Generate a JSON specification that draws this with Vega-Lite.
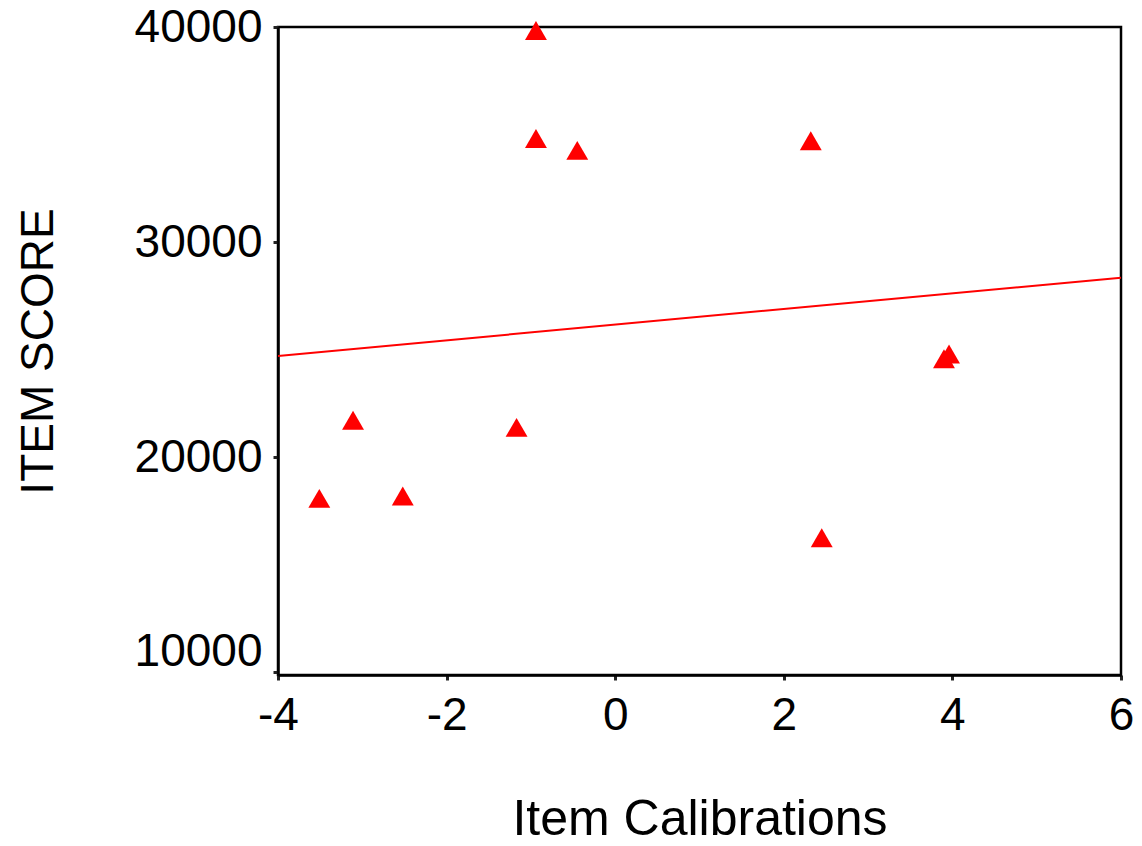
{
  "$schema": "https://vega.github.io/schema/vega-lite/v6.json",
  "autosize": "none",
  "width": 843,
  "height": 648,
  "padding": {"left": 278, "top": 27, "right": 21, "bottom": 171},
  "background": "white",
  "config": {
    "view": {"stroke": "black", "strokeWidth": 2.5},
    "font": "Liberation Sans"
  },
  "datasets": {
    "points": [
      {"calibration": -0.94, "score": 39840},
      {"calibration": -0.94, "score": 34820},
      {"calibration": -0.45, "score": 34265},
      {"calibration": 2.32, "score": 34716},
      {"calibration": 3.90, "score": 24580},
      {"calibration": 3.96, "score": 24800},
      {"calibration": -3.11, "score": 21726},
      {"calibration": -1.17, "score": 21390},
      {"calibration": -3.51, "score": 18090},
      {"calibration": -2.52, "score": 18200},
      {"calibration": 2.45, "score": 16260}
    ],
    "fit": [
      {"calibration": -4, "score": 24710},
      {"calibration": 6, "score": 28350}
    ]
  },
  "layer": [
    {
      "data": {"name": "fit"},
      "mark": {"type": "line", "color": "#ff0000", "strokeWidth": 2, "clip": true},
      "encoding": {
        "x": {"field": "calibration", "type": "quantitative"},
        "y": {"field": "score", "type": "quantitative"}
      }
    },
    {
      "data": {"name": "points"},
      "mark": {"type": "point", "shape": "triangle-up", "filled": true, "color": "#ff0000", "opacity": 1, "size": 480, "strokeWidth": 0},
      "encoding": {
        "x": {
          "field": "calibration",
          "type": "quantitative",
          "scale": {"domain": [-4, 6], "nice": false, "zero": false},
          "axis": {
            "title": "Item Calibrations",
            "values": [-4, -2, 0, 2, 4, 6],
            "labelExpr": "'' + datum.value",
            "grid": false,
            "labelFlush": false,
            "labelFontSize": 46,
            "labelColor": "black",
            "labelPadding": 13,
            "tickSize": 5,
            "tickWidth": 3,
            "tickColor": "#222",
            "domainColor": "black",
            "domainWidth": 2.5,
            "titleFontSize": 50,
            "titleFontWeight": "normal",
            "titleColor": "black",
            "titlePadding": 56
          }
        },
        "y": {
          "field": "score",
          "type": "quantitative",
          "scale": {"domain": [9880, 40000], "nice": false, "zero": false},
          "axis": {
            "title": "ITEM SCORE",
            "values": [10000, 20000, 30000, 40000],
            "format": "d",
            "grid": false,
            "labelFontSize": 46,
            "labelColor": "black",
            "labelPadding": 11,
            "labelOffset": {"condition": {"test": "datum.value === 10000", "value": -21}, "value": 0},
            "tickSize": 5,
            "tickWidth": 3,
            "tickColor": "#222",
            "domainColor": "black",
            "domainWidth": 2.5,
            "titleFontSize": 46,
            "titleFontWeight": "normal",
            "titleColor": "black",
            "titlePadding": 72
          }
        }
      }
    }
  ]
}
